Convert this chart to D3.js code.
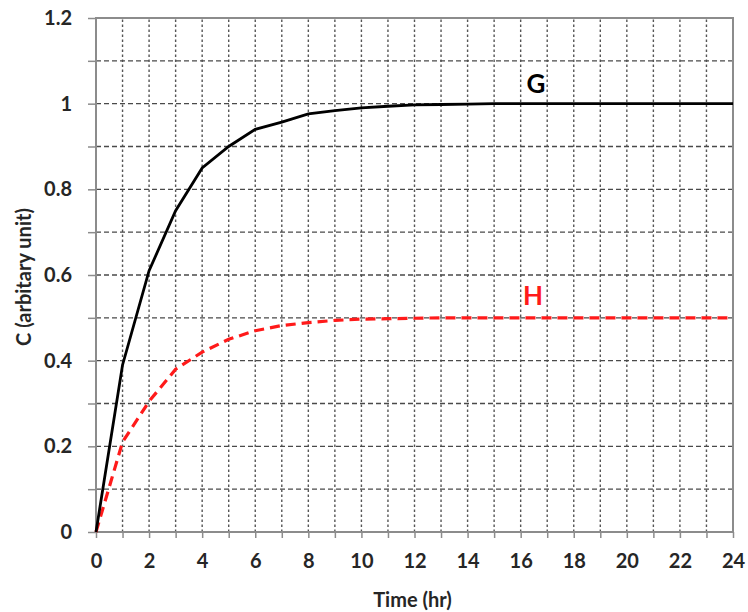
<!DOCTYPE html>
<html><head><meta charset="utf-8">
<script src="https://cdn.jsdelivr.net/npm/d3@7"></script>
<style>
html,body{margin:0;padding:0;background:#fff;}
svg text{font-family:Lato,"Open Sans",sans-serif;font-weight:bold;fill:#262626;}
</style></head>
<body>
<svg id="chart" width="748" height="612"></svg>
<script>
const hours = [0,1,2,3,4,5,6,7,8,9,10,11,12,13,14,15,16,17,18,19,20,21,22,23,24];
const seriesG = [0,0.39,0.61,0.75,0.85,0.90,0.94,0.957,0.976,0.984,0.99,0.994,0.997,0.998,0.999,1,1,1,1,1,1,1,1,1,1];
const seriesH = [0,0.21,0.305,0.38,0.42,0.45,0.47,0.482,0.489,0.494,0.497,0.498,0.499,0.5,0.5,0.5,0.5,0.5,0.5,0.5,0.5,0.5,0.5,0.5,0.5];
const xTickLabels = [0,2,4,6,8,10,12,14,16,18,20,22,24];
const yTickLabels = [0,0.2,0.4,0.6,0.8,1,1.2];
const xMinor = d3.range(0,25,1);
const yMinor = d3.range(0,13,1).map(d=>d/10);

const svg = d3.select("#chart");
const m = {left:96, right:15, top:18, bottom:80};
const W = 748, H = 612;
const x = d3.scaleLinear().domain([0,24]).range([m.left, W-m.right]);
const y = d3.scaleLinear().domain([0,1.2]).range([H-m.bottom, m.top]);
const FF = "Lato,'Open Sans',sans-serif";

// vertical grid (dotted)
svg.append("g").selectAll("line").data(xMinor.filter(d=>d>0&&d<24)).join("line")
  .attr("x1",d=>x(d)).attr("x2",d=>x(d)).attr("y1",y(0)).attr("y2",y(1.2))
  .attr("stroke","#555").attr("stroke-width",1.4).attr("stroke-dasharray","2.5,2.5");
// horizontal grid (dashed)
svg.append("g").selectAll("line").data(yMinor.filter(d=>d>0&&d<1.2)).join("line")
  .attr("x1",x(0)).attr("x2",x(24)).attr("y1",d=>y(d)).attr("y2",d=>y(d))
  .attr("stroke","#4a4a4a").attr("stroke-width",1.4).attr("stroke-dasharray","5,3");

// frame
svg.append("rect").attr("x",x(0)).attr("y",y(1.2)).attr("width",x(24)-x(0)).attr("height",y(0)-y(1.2))
  .attr("fill","none").attr("stroke","#8c8c8c").attr("stroke-width",2);

// axes
const xAxis = d3.axisBottom(x).tickValues(xMinor).tickSize(6).tickFormat("");
const gx = svg.append("g").attr("transform",`translate(0,${y(0)})`).call(xAxis);
gx.select(".domain").remove();
gx.selectAll("line").attr("stroke","#8c8c8c").attr("stroke-width",1.5);
const xLab = d3.axisBottom(x).tickValues(xTickLabels).tickSize(0).tickPadding(22).tickFormat(d3.format("d"));
const gxl = svg.append("g").attr("transform",`translate(0,${y(0)})`).call(xLab);
gxl.select(".domain").remove();
gxl.selectAll("text").attr("font-size",20).attr("font-family",FF).attr("font-weight","bold").attr("fill","#262626");

const yAxis = d3.axisLeft(y).tickValues(yMinor).tickSize(8).tickFormat("");
const gy = svg.append("g").attr("transform",`translate(${x(0)},0)`).call(yAxis);
gy.select(".domain").remove();
gy.selectAll("line").attr("stroke","#8c8c8c").attr("stroke-width",1.5);
const yLab = d3.axisLeft(y).tickValues(yTickLabels).tickSize(0).tickPadding(24).tickFormat(d=>String(+d.toFixed(1)));
const gyl = svg.append("g").attr("transform",`translate(${x(0)},0)`).call(yLab);
gyl.select(".domain").remove();
gyl.selectAll("text").attr("font-size",20).attr("font-family",FF).attr("font-weight","bold").attr("fill","#262626");

// lines
const line = d3.line().x((d,i)=>x(hours[i])).y(d=>y(d));
svg.append("path").datum(seriesH).attr("d",line).attr("fill","none")
  .attr("stroke","#ff1a1a").attr("stroke-width",3.2).attr("stroke-dasharray","10,6");
svg.append("path").datum(seriesG).attr("d",line).attr("fill","none")
  .attr("stroke","#000").attr("stroke-width",2.8);

// series labels
svg.append("text").attr("x",536).attr("y",93).attr("text-anchor","middle")
  .attr("font-size",26).text("G").style("fill","#000");
svg.append("text").attr("x",533).attr("y",305).attr("text-anchor","middle")
  .attr("font-size",26).text("H").style("fill","#ff1a1a");

// axis titles
svg.append("text").attr("x",(x(0)+x(24))/2 - 2).attr("y",607).attr("text-anchor","middle")
  .attr("font-size",20).text("Time (hr)");
svg.append("text").attr("transform",`translate(31,${(y(0)+y(1.2))/2 + 2}) rotate(-90)`)
  .attr("text-anchor","middle").attr("font-size",20).text("C (arbitary unit)");
</script>
</body></html>
